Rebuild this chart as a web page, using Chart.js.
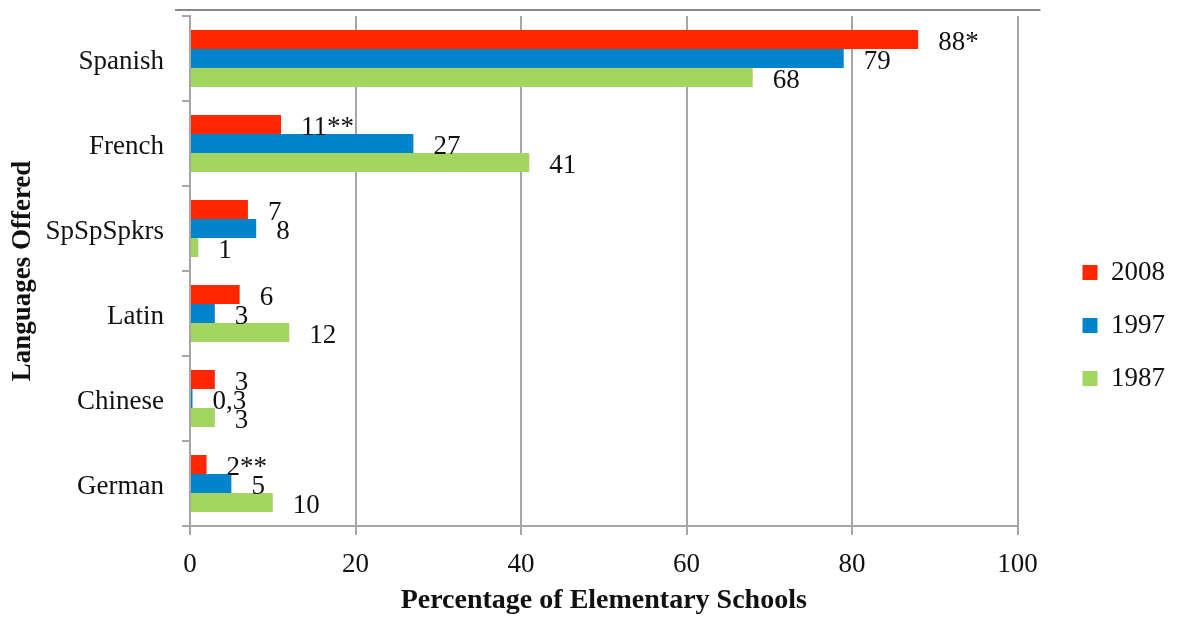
<!DOCTYPE html>
<html>
<head>
<meta charset="utf-8">
<script src="https://cdn.jsdelivr.net/npm/chart.js@4.4.1/dist/chart.umd.min.js"></script>
<style>
  html, body { margin: 0; padding: 0; background: #fff; }
  #wrap { width: 1181px; height: 618px; }
</style>
</head>
<body>
<div id="wrap"><canvas id="langChart" width="1181" height="618"></canvas></div>
<script>
const languages = ['Spanish', 'French', 'SpSpSpkrs', 'Latin', 'Chinese', 'German'];
const values2008 = [88, 11, 7, 6, 3, 2];
const values1997 = [79, 27, 8, 3, 0.3, 5];
const values1987 = [68, 41, 1, 12, 3, 10];
const labels2008 = ['88*', '11**', '7', '6', '3', '2**'];
const labels1997 = ['79', '27', '8', '3', '0,3', '5'];
const labels1987 = ['68', '41', '1', '12', '3', '10'];
const xTicks = [0, 20, 40, 60, 80, 100];

const serif = '"Liberation Serif", "Times New Roman", serif';
const axisGray = '#a6a6a6';

// values at the end of each bar, like the Excel data labels
const barLabels = {
    id: 'barLabels',
    afterDatasetsDraw(chart) {
        const ctx = chart.ctx;
        ctx.save();
        ctx.font = '27px ' + serif;
        ctx.fillStyle = '#111';
        ctx.textAlign = 'left';
        ctx.textBaseline = 'middle';
        chart.data.datasets.forEach(function (ds, i) {
            const meta = chart.getDatasetMeta(i);
            meta.data.forEach(function (bar, j) {
                ctx.fillText(ds.valueLabels[j], bar.x + 20, bar.y + 3);
            });
        });
        ctx.restore();
    }
};

// thin line above the plot
const topLine = {
    id: 'topLine',
    beforeDraw(chart) {
        const a = chart.chartArea;
        const ctx = chart.ctx;
        ctx.save();
        ctx.strokeStyle = '#888';
        ctx.lineWidth = 2;
        ctx.beginPath();
        ctx.moveTo(a.left - 15, a.top - 6);
        ctx.lineTo(a.right + 23, a.top - 6);
        ctx.stroke();
        ctx.restore();
    }
};

new Chart(document.getElementById('langChart').getContext('2d'), {
    type: 'bar',
    data: {
        labels: languages,
        datasets: [{
            label: '2008',
            data: values2008,
            valueLabels: labels2008,
            backgroundColor: '#ff2600',
            yAxisID: 'y'
        }, {
            label: '1997',
            data: values1997,
            valueLabels: labels1997,
            backgroundColor: '#0084cc',
            yAxisID: 'y'
        }, {
            label: '1987',
            data: values1987,
            valueLabels: labels1987,
            backgroundColor: '#a3d561',
            yAxisID: 'y'
        }]
    },
    plugins: [barLabels, topLine],
    options: {
        indexAxis: 'y',
        responsive: false,
        animation: false,
        categoryPercentage: 0.67,
        barPercentage: 1.0,
        layout: { padding: { top: 16, right: 6, left: 0, bottom: 0 } },
        plugins: {
            tooltip: { enabled: false },
            legend: {
                position: 'right',
                title: { display: true, text: '', font: { size: 10 }, padding: { top: 5, bottom: 0 } },
                labels: {
                    font: { family: serif, size: 27 },
                    color: '#111',
                    boxWidth: 15,
                    boxHeight: 15,
                    padding: 26
                }
            }
        },
        scales: {
            x: {
                min: 0,
                max: 100,
                afterBuildTicks(scale) {
                    scale.ticks = xTicks.map(v => ({ value: v }));
                },
                afterFit(scale) {
                    scale.height = 92;
                },
                grid: {
                    color: axisGray,
                    lineWidth: 2,
                    tickLength: 9
                },
                border: { color: axisGray, width: 2 },
                ticks: {
                    font: { family: serif, size: 27 },
                    color: '#111',
                    padding: 14
                },
                title: {
                    display: true,
                    text: 'Percentage of Elementary Schools',
                    font: { family: serif, size: 28, weight: 'bold' },
                    color: '#111',
                    padding: { top: 0, bottom: 0 }
                }
            },
            y: {
                offset: true,
                afterFit(scale) {
                    scale.width = 190;
                    scale.paddingTop = 0;
                    scale.paddingBottom = 0;
                },
                grid: {
                    offset: true,
                    drawOnChartArea: false,
                    color: axisGray,
                    lineWidth: 2,
                    tickLength: 8
                },
                border: { color: axisGray, width: 2 },
                ticks: {
                    font: { family: serif, size: 27 },
                    color: '#111',
                    padding: 18,
                    labelOffset: 3
                },
                title: {
                    display: true,
                    text: 'Languages Offered',
                    font: { family: serif, size: 27, weight: 'bold' },
                    color: '#111',
                    padding: { top: 7, bottom: 0 }
                }
            },
            // empty spacer between plot and legend
            yRight: {
                type: 'category',
                axis: 'y',
                position: 'right',
                afterFit(scale) {
                    scale.width = 39;
                    scale.paddingTop = 0;
                    scale.paddingBottom = 0;
                },
                grid: { display: false },
                border: { display: false },
                ticks: { display: false }
            }
        }
    }
});
</script>
</body>
</html>
